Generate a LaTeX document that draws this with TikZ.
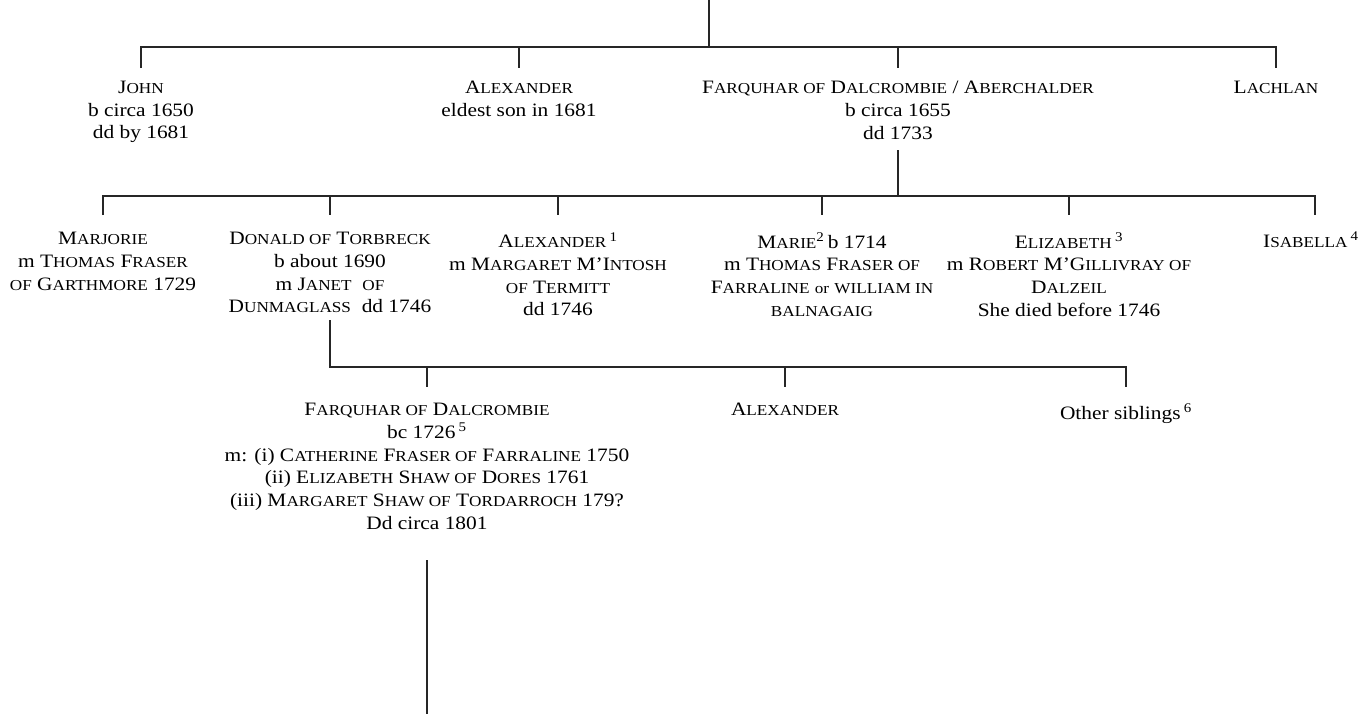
\documentclass[tikz,border=0pt]{standalone}
\usepackage{fontspec}
\setmainfont{Liberation Serif}[FakeStretch=1.13]
\newcommand\SC[1]{{\fontsize{11.4}{17}\selectfont #1}}
\begin{document}
\begin{tikzpicture}[x=0.75pt,y=-0.75pt,
  person/.style={anchor=north,inner sep=0pt,align=center,font=\fontsize{14.2}{17}\selectfont},
  link/.style={line width=0.8pt,black!85}]
\useasboundingbox (0,0) rectangle (1365,714);
% level 0
\coordinate (t0) at (709,0);
\coordinate (j0) at (709,47);
\coordinate (a0) at (141,47);
\coordinate (b0) at (519,47);
\coordinate (c0) at (898,47);
\coordinate (d0) at (1276,47);
\coordinate (a0e) at (141,68);
\coordinate (b0e) at (519,68);
\coordinate (c0e) at (898,68);
\coordinate (d0e) at (1276,68);
\node[person] (john) at (141,81) {J\SC{OHN}\\b circa 1650\\dd by 1681};
\node[person] (alex0) at (519,81) {A\SC{LEXANDER}\\eldest son in 1681};
\node[person] (farq0) at (898,81) {F\SC{ARQUHAR OF} D\SC{ALCROMBIE} / A\SC{BERCHALDER}\\b circa 1655\\dd 1733};
\node[person] (lach) at (1276,81) {L\SC{ACHLAN}};
\draw[link] (t0) -- (j0);
\draw[link] (a0e) -- (a0) -- (d0) -- (d0e);
\draw[link] (b0) -- (b0e);
\draw[link] (c0) -- (c0e);
% level 1
\coordinate (s1) at (898,150);
\coordinate (j1) at (898,196);
\coordinate (a1) at (103,196);
\coordinate (b1) at (330,196);
\coordinate (c1) at (558,196);
\coordinate (d1) at (822,196);
\coordinate (e1) at (1069,196);
\coordinate (f1) at (1315,196);
\coordinate (a1e) at (103,215);
\coordinate (b1e) at (330,215);
\coordinate (c1e) at (558,215);
\coordinate (d1e) at (822,215);
\coordinate (e1e) at (1069,215);
\coordinate (f1e) at (1315,215);
\draw[link] (s1) -- (j1);
\draw[link] (a1e) -- (a1) -- (f1) -- (f1e);
\draw[link] (b1) -- (b1e);
\draw[link] (c1) -- (c1e);
\draw[link] (d1) -- (d1e);
\draw[link] (e1) -- (e1e);
\node[person] (marj) at (103,232) {M\SC{ARJORIE}\\m T\SC{HOMAS} F\SC{RASER}\\\SC{OF} G\SC{ARTHMORE} 1729};
\node[person] (don) at (330,232) {D\SC{ONALD OF} T\SC{ORBRECK}\\b about 1690\\m J\SC{ANET}\ \ \SC{OF}\\D\SC{UNMAGLASS}\ \ dd 1746};
\node[person] (alex1) at (558,232) {A\SC{LEXANDER}\,\textsuperscript{1}\\m M\SC{ARGARET} M'I\SC{NTOSH}\\\SC{OF} T\SC{ERMITT}\\dd 1746};
\node[person] (marie) at (822,232) {M\SC{ARIE}\textsuperscript{2}\,b 1714\\m T\SC{HOMAS} F\SC{RASER OF}\\F\SC{ARRALINE} \SC{or} \SC{WILLIAM IN}\\\SC{BALNAGAIG}};
\node[person] (eliz) at (1069,232) {E\SC{LIZABETH}\,\textsuperscript{3}\\m R\SC{OBERT} M'G\SC{ILLIVRAY OF}\\D\SC{ALZEIL}\\She died before 1746};
\node[person] (isab) at (1311,232) {I\SC{SABELLA}\,\textsuperscript{4}};
% level 2
\coordinate (s2) at (330,320);
\coordinate (j2) at (330,367);
\coordinate (a2) at (427,367);
\coordinate (b2) at (785,367);
\coordinate (c2) at (1126,367);
\coordinate (a2e) at (427,387);
\coordinate (b2e) at (785,387);
\coordinate (c2e) at (1126,387);
\draw[link] (s2) -- (j2) -- (c2) -- (c2e);
\draw[link] (a2) -- (a2e);
\draw[link] (b2) -- (b2e);
\node[person] (farq1) at (427,403) {F\SC{ARQUHAR OF} D\SC{ALCROMBIE}\\bc 1726\,\textsuperscript{5}\\m: (i) C\SC{ATHERINE} F\SC{RASER OF} F\SC{ARRALINE} 1750\\(ii) E\SC{LIZABETH} S\SC{HAW OF} D\SC{ORES} 1761\\(iii) M\SC{ARGARET} S\SC{HAW OF} T\SC{ORDARROCH} 179?\\Dd circa 1801};
\node[person] (alex2) at (785,403) {A\SC{LEXANDER}};
\node[person] (oth) at (1126,403) {Other siblings\,\textsuperscript{6}};
% bottom
\coordinate (s3) at (427,560);
\coordinate (e3) at (427,714);
\draw[link] (s3) -- (e3);
\end{tikzpicture}
\end{document}
